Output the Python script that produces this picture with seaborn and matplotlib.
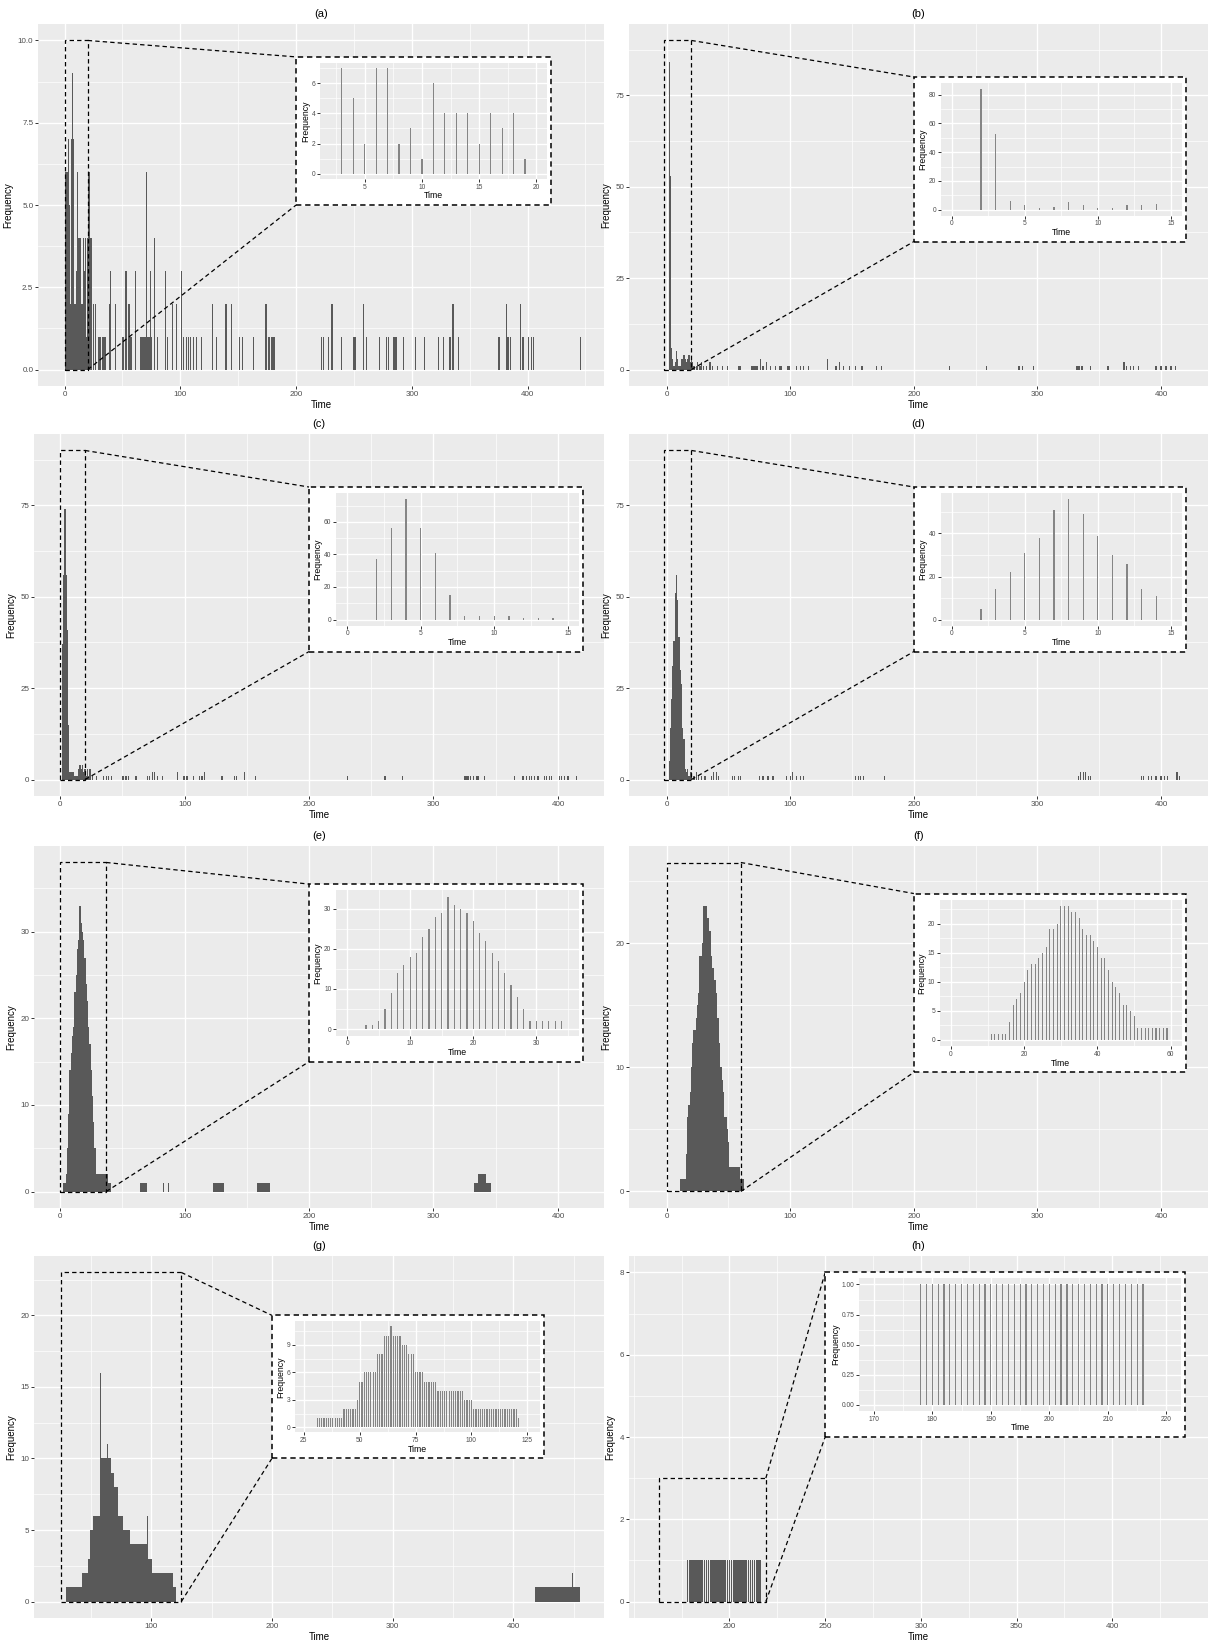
import matplotlib
matplotlib.use("Agg")
import matplotlib.pyplot as plt
import seaborn as sns
from matplotlib.patches import Rectangle
from matplotlib.ticker import FixedLocator, FixedFormatter, MultipleLocator

# ---------------- DATA ----------------
# (a)
a_t = [1,2,3,4,5,6,7,8,9,10,11,12,13,14,15,16,17,18,19,20,21,22,23,25,27,29,30,31,33,34,35,39,40,44,50,51,53,55,56,57,58,61,
       66,67,68,69,70,71,72,73,74,75,78,80,87,89,93,97,101,103,105,107,109,111,114,118,128,131,139,140,144,151,154,163,174,176,177,
       179,180,181,222,224,228,231,239,250,251,258,261,272,278,280,284,285,286,287,293,303,311,323,327,333,335,336,340,375,376,382,
       383,385,394,396,401,403,405,446]
a_n = [6,6,7,5,2,7,9,7,2,3,6,4,4,4,2,4,3,4,1,4,6,4,4,2,2,1,1,1,1,1,1,2,3,2,1,1,3,2,2,1,1,3,
       1,1,1,1,1,6,1,1,3,1,4,1,3,1,2,2,3,1,1,1,1,1,1,1,2,1,2,2,2,1,1,1,2,1,1,
       1,1,1,1,1,1,2,1,1,1,2,1,1,1,1,1,1,1,1,1,1,1,1,1,1,2,2,1,1,1,2,
       1,1,2,1,1,1,1,1]
a_it = [3,4,5,6,7,8,9,10,11,12,13,14,15,16,17,18,19]
a_in = [7,5,2,7,7,2,3,1,6,4,4,4,2,4,3,4,1]

# (b)
b_t = [2,3,4,5,6,7,8,9,10,11,12,13,14,15,16,17,18,19,20,21,22,24,25,27,28,30,32,35,37,41,45,49,58,59,60,69,70,71,72,73,76,78,
       81,84,88,91,92,93,98,99,105,108,111,115,130,137,140,143,148,153,158,170,174,229,259,285,288,297,332,333,334,336,343,357,
       370,372,375,378,382,396,400,404,408,412]
b_n = [84,53,6,3,1,2,5,3,1,1,3,3,4,3,2,3,4,2,3,2,1,1,2,1,2,1,1,2,1,1,1,1,1,1,1,1,1,1,1,1,3,1,
       2,1,1,1,1,1,1,1,1,1,1,1,3,1,2,1,1,1,1,1,1,1,1,1,1,1,1,1,1,1,1,1,
       2,1,1,1,1,1,1,1,1,1]
b_it = [2,3,4,5,6,7,8,9,10,11,12,13,14]
b_in = [84,53,6,3,1,2,5,3,1,1,3,3,4]

# (c)
c_t = [2,3,4,5,6,7,8,9,10,11,12,13,14,15,16,17,18,19,20,21,22,23,24,26,29,35,37,39,41,50,51,53,55,61,70,72,74,76,78,82,94,99,
       100,102,107,112,114,116,130,140,142,148,157,231,261,275,325,326,327,328,330,332,335,336,341,365,372,375,377,379,381,384,
       389,391,393,395,401,403,405,408,415]
c_n = [37,56,74,56,41,15,2,2,2,2,1,1,1,3,4,3,4,2,3,1,3,1,3,1,1,1,1,1,1,1,1,1,1,1,1,1,2,2,1,1,2,1,
       1,1,1,1,1,2,1,1,1,2,1,1,1,1,1,1,1,1,1,1,1,1,1,1,1,1,1,1,1,1,
       1,1,1,1,1,1,1,1,1]
c_it = [2,3,4,5,6,7,8,9,10,11,12,13,14]
c_in = [37,56,74,56,41,15,2,2,2,2,1,1,1]

# (d)
d_t = [2,3,4,5,6,7,8,9,10,11,12,13,14,15,16,17,18,19,20,22,24,26,28,31,36,38,40,42,53,55,58,60,75,78,82,86,97,100,102,105,108,
       111,153,155,157,159,176,333,335,337,339,341,343,384,386,390,392,396,400,403,405,413,415]
d_n = [5,14,22,31,38,51,56,49,39,30,26,14,11,3,2,3,1,2,2,1,2,1,1,1,1,2,2,1,1,1,1,1,1,1,1,1,1,1,2,1,1,
       1,1,1,1,1,1,1,2,2,2,1,1,1,1,1,1,1,1,1,1,2,1]
d_it = [2,3,4,5,6,7,8,9,10,11,12,13,14]
d_in = [5,14,22,31,38,51,56,49,39,30,26,14,11]

# (e)
e_t = [3,4,5,6,7,8,9,10,11,12,13,14,15,16,17,18,19,20,21,22,23,24,25,26,27,28,29,30,31,32,33,34,35,36,37,38,39,40,
       65,66,67,68,69,83,87,123,124,125,126,127,128,129,130,131,159,160,161,162,163,164,165,166,167,168,
       333,334,335,336,337,338,339,340,341,342,343,344,345,346]
e_n = [1,1,2,5,9,14,16,18,19,23,25,28,29,33,31,30,29,27,24,22,19,17,14,11,8,5,2,2,2,2,2,2,2,2,2,2,1,1,
       1,1,1,1,1,1,1,1,1,1,1,1,1,1,1,1,1,1,1,1,1,1,1,1,1,1,
       1,1,1,2,2,2,2,2,2,2,1,1,1,1]
e_it = [3,4,5,6,7,8,9,10,11,12,13,14,15,16,17,18,19,20,21,22,23,24,25,26,27,28,29,30,31,32,33,34]
e_in = [1,1,2,5,9,14,16,18,19,23,25,28,29,33,31,30,29,27,24,22,19,17,14,11,8,5,2,2,2,2,2,2]

# (f)
f_t = [11,12,13,14,15,16,17,18,19,20,21,22,23,24,25,26,27,28,29,30,31,32,33,34,35,36,37,38,39,40,41,42,43,44,45,46,47,48,
       49,50,51,52,53,54,55,56,57,58,59,60,61,62]
f_n = [1,1,1,1,1,3,6,7,8,10,12,13,13,14,15,16,19,19,20,23,23,23,22,22,21,19,18,18,17,16,14,14,12,10,9,8,6,6,
       5,4,2,2,2,2,2,2,2,2,2,1,1,1]
f_it = [11,12,13,14,15,16,17,18,19,20,21,22,23,24,25,26,27,28,29,30,31,32,33,34,35,36,37,38,39,40,41,42,43,44,45,46,47,48,
        49,50,51,52,53,54,55,56,57,58,59]
f_in = [1,1,1,1,1,3,6,7,8,10,12,13,13,14,15,16,19,19,20,23,23,23,22,22,21,19,18,18,17,16,14,14,12,10,9,8,6,6,
        5,4,2,2,2,2,2,2,2,2,2]

# (g)
g_t = [30,31,32,33,34,35,36,37,38,39,40,41,42,43,44,45,46,47,48,49,50,51,52,53,54,55,56,57,58,59,60,61,62,63,64,65,66,67,
       68,69,70,71,72,73,74,75,76,77,78,79,80,81,82,83,84,85,86,87,88,89,90,91,92,93,94,95,96,97,98,99,100,101,102,103,104,
       105,106,107,108,109,110,111,112,113,114,115,116,117,118,119,120,
       418,419,420,421,422,423,424,425,426,427,428,429,430,431,432,433,434,435,436,437,438,439,440,441,442,443,444,445,446,
       447,448,449,450,451,452,453,454,455]
g_n = [1,1,1,1,1,1,1,1,1,1,1,1,1,2,2,2,2,2,3,3,5,5,6,6,6,6,6,6,16,10,10,10,10,10,11,10,10,9,
       9,9,8,8,8,6,6,6,6,5,5,5,5,5,5,4,4,4,4,4,4,4,4,4,4,4,4,4,4,6,3,3,3,2,2,2,2,
       2,2,2,2,2,2,2,2,2,2,2,2,2,2,1,1,
       1,1,1,1,1,1,1,1,1,1,1,1,1,1,1,1,1,1,1,1,1,1,1,1,1,1,1,1,1,
       1,1,2,1,1,1,1,1,1]
g_it = [31,32,33,34,35,36,37,38,39,40,41,42,43,44,45,46,47,48,49,50,51,52,53,54,55,56,57,58,59,60,61,62,63,64,65,66,67,68,
        69,70,71,72,73,74,75,76,77,78,79,80,81,82,83,84,85,86,87,88,89,90,91,92,93,94,95,96,97,98,99,100,101,102,103,104,
        105,106,107,108,109,110,111,112,113,114,115,116,117,118,119,120,121]
g_in = [1,1,1,1,1,1,1,1,1,1,1,1,2,2,2,2,2,2,3,5,5,6,6,6,6,6,6,8,8,8,10,10,10,11,10,10,10,10,
        9,9,9,8,8,8,6,6,6,6,5,5,5,5,5,5,4,4,4,4,4,4,4,4,4,4,4,4,3,3,3,3,2,2,2,2,
        2,2,2,2,2,2,2,2,2,2,2,2,2,2,2,2,1]

# (h)
h_t = [178,179,180,181,182,183,184,185,186,187,188,189,190,191,192,193,194,195,196,197,198,199,200,201,202,203,204,205,206,
       207,208,209,210,211,212,213,214,215,216]
h_n = [1,1,1,1,1,1,1,1,1,1,1,1,1,1,1,1,1,1,1,1,1,1,1,1,1,1,1,1,1,
       1,1,1,1,1,1,1,1,1,1]
h_it = h_t
h_in = h_n

titles = ["(a)", "(b)", "(c)", "(d)", "(e)", "(f)", "(g)", "(h)"]
main_x_ticks = [[0,100,200,300,400]]*6 + [[100,200,300,400], [200,250,300,350,400]]
main_y_ticks = [[0,2.5,5,7.5,10],[0,25,50,75],[0,25,50,75],[0,25,50,75],[0,10,20,30],[0,10,20],[0,5,10,15,20],[0,2,4,6,8]]
main_y_labels = [["0.0","2.5","5.0","7.5","10.0"],["0","25","50","75"],["0","25","50","75"],["0","25","50","75"],
                 ["0","10","20","30"],["0","10","20"],["0","5","10","15","20"],["0","2","4","6","8"]]
ins_x_ticks = [[5,10,15,20],[0,5,10,15],[0,5,10,15],[0,5,10,15],[0,10,20,30],[0,20,40,60],[25,50,75,100,125],
               [170,180,190,200,210,220]]
ins_y_ticks = [[0,2,4,6],[0,20,40,60,80],[0,20,40,60],[0,20,40],[0,10,20,30],[0,5,10,15,20],[0,3,6,9],
               [0,0.25,0.5,0.75,1]]
ins_y_labels = [["0","2","4","6"],["0","20","40","60","80"],["0","20","40","60"],["0","20","40"],["0","10","20","30"],
                ["0","5","10","15","20"],["0","3","6","9"],["0.00","0.25","0.50","0.75","1.00"]]

mains = [(a_t,a_n),(b_t,b_n),(c_t,c_n),(d_t,d_n),(e_t,e_n),(f_t,f_n),(g_t,g_n),(h_t,h_n)]
insets = [(a_it,a_in),(b_it,b_in),(c_it,c_in),(d_it,d_in),(e_it,e_in),(f_it,f_in),(g_it,g_in),(h_it,h_in)]

# ---------------- LAYOUT / STYLE ----------------
xlims = [(-23,466),(-30.5,438),(-21,437),(-30.5,438),(-21,437),(-30.5,438),(3,475),(147.5,450)]
ylims = [(-0.5,10.5),(-4.5,94.5),(-4.5,94.5),(-4.5,94.5),(-1.9,39.9),(-1.33,27.83),(-1.15,24.15),(-0.4,8.4)]
zoom_rects = [(0,20,10),(-2,20,90),(0,20,90),(-2,20,90),(0,37,38),(0,60,26.5),(25,125,23),(163,219,3)]
ins_boxes = [(200,420,5,9.5),(200,420,35,80),(200,420,35,80),(200,420,35,80),(200,420,15,35.5),(200,420,9.6,24),
             (200,425,10,20),(250,438,4,8)]
ins_xlims = [(1.1,20.9),(-0.75,15.75),(-0.75,15.75),(-0.75,15.75),(-1.75,36.75),(-3,63),(21,130.5),(167.5,222.5)]
ins_ylims = [(-0.35,7.35),(-4.2,88.2),(-3.7,77.7),(-2.8,58.8),(-1.65,34.65),(-1.15,24.15),(-0.55,11.55),(-0.05,1.05)]
ins_left_px = [24, 27, 27, 27, 27, 26, 23, 34]
main_shrink = [1, 1, 1, 1, 1, 1, 1, 0.8]

W, H = 1213, 1641
fig = plt.figure(figsize=(W/100, H/100), dpi=100)
plt.rcParams['font.family'] = ['Liberation Sans', 'DejaVu Sans']

col_x = [[(38,604),(629,1208)], [(34,604),(629,1208)], [(34,604),(629,1208)], [(34,604),(629,1208)]]
row_top = [24, 434, 846, 1256]
PH = 362
BAR = '#595959'
LINE = '#858585'


def style(ax, tsize):
    ax.set_facecolor('#EBEBEB')
    for s in ax.spines.values():
        s.set_visible(False)
    ax.set_axisbelow(True)
    ax.grid(True, which='major', color='white', lw=1.0)
    ax.grid(True, which='minor', color='white', lw=0.5)
    ax.tick_params(which='major', length=2.2, width=0.7, color='#333333', labelcolor='#4D4D4D',
                   labelsize=tsize, pad=1.2)
    ax.tick_params(which='minor', length=0)


for i in range(8):
    r, c = divmod(i, 2)
    x0, x1 = col_x[r][c]
    top = row_top[r]
    ax = fig.add_axes([x0/W, 1-(top+PH)/H, (x1-x0)/W, PH/H])
    t, n = mains[i]
    sns.histplot(x=t, weights=n, discrete=True, shrink=main_shrink[i], color=BAR, alpha=1,
                 edgecolor='none', linewidth=0, ax=ax)
    style(ax, 5.8)
    ax.set_xlim(*xlims[i]); ax.set_ylim(*ylims[i])
    xt = main_x_ticks[i]; yt = main_y_ticks[i]
    ax.xaxis.set_major_locator(FixedLocator(xt))
    ax.xaxis.set_minor_locator(MultipleLocator((xt[1]-xt[0])/2))
    ax.yaxis.set_major_locator(FixedLocator(yt))
    ax.yaxis.set_major_formatter(FixedFormatter(main_y_labels[i]))
    ax.yaxis.set_minor_locator(MultipleLocator((yt[1]-yt[0])/2))
    ax.set_xlabel("Time", fontsize=7, labelpad=1.5)
    ax.set_ylabel("Frequency", fontsize=7, labelpad=3)
    ax.set_title(titles[i], fontsize=8, pad=5)

    # zoom rectangle + connectors
    rx0, rx1, ry1 = zoom_rects[i]
    bx0, bx1, by0, by1 = ins_boxes[i]
    ax.add_patch(Rectangle((rx0, 0), rx1-rx0, ry1, fill=False, ec='black', lw=0.9,
                           ls=(0, (3.5, 2.5)), zorder=3))
    ax.plot([rx1, bx0], [ry1, by1], color='black', lw=0.9, ls=(0, (3.5, 2.5)), zorder=3)
    ax.plot([rx1, bx0], [0, by0], color='black', lw=0.9, ls=(0, (3.5, 2.5)), zorder=3)
    ax.add_patch(Rectangle((bx0, by0), bx1-bx0, by1-by0, fc='white', ec='black', lw=1.1,
                           ls=(0, (3.5, 2.5)), zorder=4))

    # inset axes in axes-fraction coords
    axw = x1 - x0
    xl0, xl1 = xlims[i]; yl0, yl1 = ylims[i]
    fx0 = (bx0-xl0)/(xl1-xl0); fx1 = (bx1-xl0)/(xl1-xl0)
    fy0 = (by0-yl0)/(yl1-yl0); fy1 = (by1-yl0)/(yl1-yl0)
    mL, mR, mT, mB = ins_left_px[i]/axw, 4/axw, 6/PH, 26/PH
    iax = ax.inset_axes([fx0+mL, fy0+mB, (fx1-fx0)-mL-mR, (fy1-fy0)-mB-mT])
    iax.set_zorder(5)
    it, inn = insets[i]
    ix0, ix1 = ins_xlims[i]
    inw_px = ((fx1-fx0)-mL-mR)*axw
    shr = min(0.7, 1.2/(inw_px/(ix1-ix0)))
    sns.histplot(x=it, weights=inn, discrete=True, shrink=shr, color=LINE, alpha=1, linewidth=0, ax=iax)
    style(iax, 4.8)
    iax.set_xlim(ix0, ix1); iax.set_ylim(*ins_ylims[i])
    ixt = ins_x_ticks[i]; iyt = ins_y_ticks[i]
    iax.xaxis.set_major_locator(FixedLocator(ixt))
    iax.xaxis.set_minor_locator(MultipleLocator((ixt[1]-ixt[0])/2))
    iax.yaxis.set_major_locator(FixedLocator(iyt))
    iax.yaxis.set_major_formatter(FixedFormatter(ins_y_labels[i]))
    iax.yaxis.set_minor_locator(MultipleLocator((iyt[1]-iyt[0])/2))
    iax.set_xlabel("Time", fontsize=6.3, labelpad=0.5)
    iax.set_ylabel("Frequency", fontsize=6.3, labelpad=1)

fig.savefig("out.png", dpi=100, facecolor='white')
